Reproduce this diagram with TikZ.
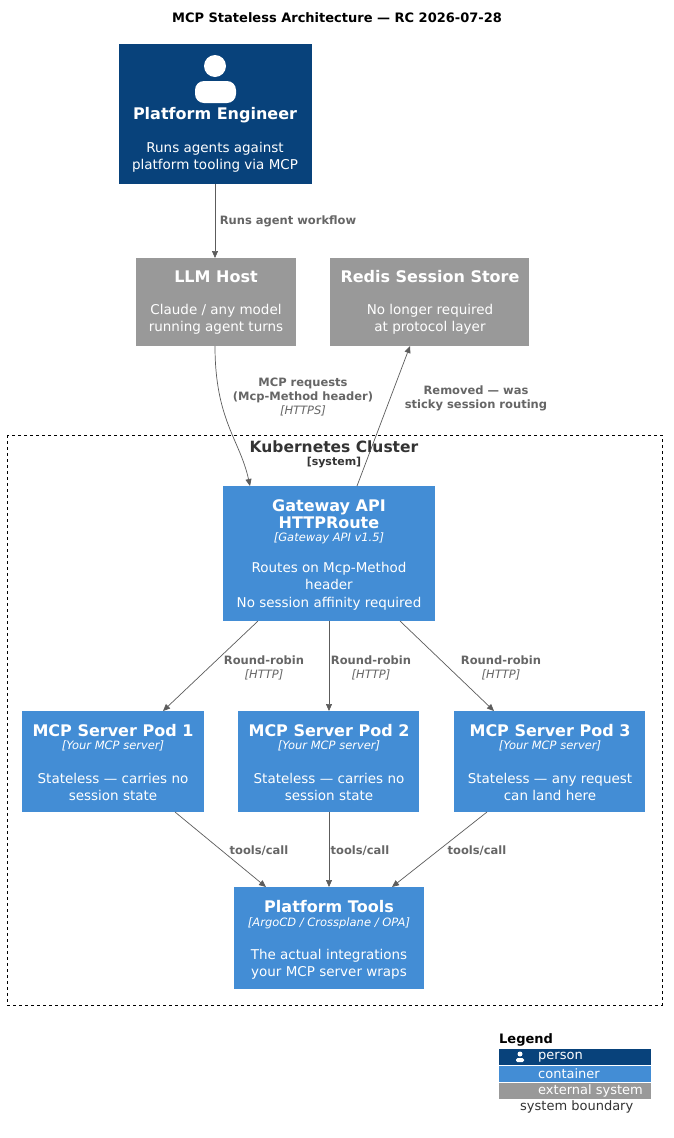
\documentclass[tikz,border=0pt]{standalone}
\usepackage{fontspec}
\setmainfont{DejaVu Sans}
\usetikzlibrary{arrows.meta}
\definecolor{person}{HTML}{08427B}
\definecolor{cont}{HTML}{438DD5}
\definecolor{ext}{HTML}{999999}
\definecolor{lbl}{HTML}{666666}
\begin{document}
\begin{tikzpicture}[x=1pt,y=-1pt,
  box/.style={inner sep=0pt,text=white,align=center},
  ttl/.style={font=\fontsize{16}{17}\selectfont\bfseries},
  dsc/.style={font=\fontsize{13.5}{17}\selectfont},
  arr/.style={draw=lbl!90!black,-{Triangle[length=7pt,width=6pt]},line width=0.7pt},
  el/.style={text=lbl,font=\fontsize{11.5}{14}\selectfont\bfseries,align=center,inner sep=1pt},
  tn/.style={font=\fontsize{11.5}{14}\selectfont\itshape}]
\useasboundingbox (0,0) rectangle (674,1138);
\fill[white] (0,0) rectangle (674,1138);
\node[font=\fontsize{13}{15}\selectfont\bfseries] (title) at (337,18) {MCP Stateless Architecture — RC 2026-07-28};
% boundary
\draw[dashed,line width=0.6pt] (7,435) rectangle (662,1005);
\node[font=\fontsize{15.5}{17}\selectfont\bfseries,text=black!80] (kc) at (334,447) {Kubernetes Cluster};
\node[font=\fontsize{11}{12}\selectfont\bfseries,text=black!80] (kcs) at (334,463) {[system]};
% person
\fill[person] (119,44) rectangle (312,184);
\coordinate (pN) at (215,44); \coordinate (pS) at (215,184);
\fill[white] (215,66) circle (11);
\fill[white,rounded corners=9pt] (195,103) -- (195,81) -- (236,81) -- (236,103) -- cycle;
\node[box,ttl] (pe) at (215,115) {Platform Engineer};
\node[box,dsc] (ped) at (215,157) {Runs agents against\\platform tooling via MCP};
% LLM
\fill[ext] (136,258) rectangle (296,346);
\coordinate (lN) at (215,258); \coordinate (lS) at (215,346);
\node[box,ttl] (llm) at (216,277) {LLM Host};
\node[box,dsc] (llmd) at (216,319) {Claude / any model\\running agent turns};
% Redis
\fill[ext] (330,258) rectangle (529,346);
\coordinate (rS) at (410,346);
\node[box,ttl] (rd) at (430,277) {Redis Session Store};
\node[box,dsc] (rdd) at (430,319) {No longer required\\at protocol layer};
% Gateway
\fill[cont] (223,486) rectangle (435,621);
\coordinate (gN1) at (250,486); \coordinate (gN2) at (357,486);
\coordinate (gS1) at (258,621); \coordinate (gS2) at (329,621); \coordinate (gS3) at (400,621);
\node[box,font=\fontsize{16}{17}\selectfont\bfseries] (gw) at (329,514) {Gateway API\\HTTPRoute};
\node[box,tn] (gwt) at (329,538) {[Gateway API v1.5]};
\node[box,font=\fontsize{13.5}{17.5}\selectfont] (gwd) at (329,586) {Routes on Mcp-Method\\header\\No session affinity required};
% Pods
\foreach \n/\a/\b/\c/\la/\lb in {1/22/204/113/Stateless — carries no/session state, 2/238/419/329/Stateless — carries no/session state, 3/454/645/550/Stateless — any request/can land here}{
  \fill[cont] (\a,711) rectangle (\b,812);
  \node[box,ttl] (p\n) at (\c,731) {MCP Server Pod \n};
  \node[box,tn] (p\n t) at (\c,746) {[Your MCP server]};
  \node[box,dsc] (p\n d) at (\c,787) {\la\\\lb};
}
\coordinate (p1N) at (163,711); \coordinate (p2N) at (329,711); \coordinate (p3N) at (494,711);
\coordinate (p1S) at (175,812); \coordinate (p2S) at (329,812); \coordinate (p3S) at (487,812);
% Tools
\fill[cont] (234,887) rectangle (424,989);
\coordinate (t1) at (266,887); \coordinate (t2) at (329,887); \coordinate (t3) at (392,887);
\node[box,ttl] (pt) at (329,907) {Platform Tools};
\node[box,tn] (ptt) at (329,923) {[ArgoCD / Crossplane / OPA]};
\node[box,dsc] (ptd) at (329,964) {The actual integrations\\your MCP server wraps};
% edges
\draw[arr] (pS) -- (lN);
\node[el] (e1) at (288,221) {Runs agent workflow};
\draw[arr] (lS) .. controls (215,420) and (240,440) .. (gN1);
\node[el] (e2) at (303,397) {MCP requests\\(Mcp-Method header)\\{\mdseries\itshape [HTTPS]}};
\draw[arr] (gN2) -- (rS);
\node[el] (e3) at (476,398) {Removed — was\\sticky session routing};
\draw[arr] (gS1) -- (p1N); \draw[arr] (gS2) -- (p2N); \draw[arr] (gS3) -- (p3N);
\node[el] (e4) at (264,668) {Round-robin\\{\mdseries\itshape [HTTP]}};
\node[el] (e5) at (371,668) {Round-robin\\{\mdseries\itshape [HTTP]}};
\node[el] (e6) at (501,668) {Round-robin\\{\mdseries\itshape [HTTP]}};
\draw[arr] (p1S) -- (t1); \draw[arr] (p2S) -- (t2); \draw[arr] (p3S) -- (t3);
\node[el] (e7) at (259,851) {tools/call};
\node[el] (e8) at (360,851) {tools/call};
\node[el] (e9) at (477,851) {tools/call};
% legend
\node[anchor=west,font=\fontsize{13}{14}\selectfont\bfseries,inner sep=0pt] (lg) at (499,1040) {Legend};
\fill[person] (499,1049) rectangle (651,1065);
\fill[cont] (499,1066) rectangle (651,1082);
\fill[ext] (499,1083) rectangle (651,1099);
\fill[white] (520,1054) circle (2.5);
\fill[white,rounded corners=1.5pt] (516,1062) rectangle (524,1058);
\node[anchor=west,text=white,font=\fontsize{13}{14}\selectfont,inner sep=0pt] (l1) at (538,1057) {person};
\node[anchor=west,text=white,font=\fontsize{13}{14}\selectfont,inner sep=0pt] (l2) at (538,1074) {container};
\node[anchor=west,text=white,font=\fontsize{13}{14}\selectfont,inner sep=0pt] (l3) at (538,1091) {external system};
\node[anchor=west,text=black!80,font=\fontsize{13}{14}\selectfont,inner sep=0pt] (l4) at (520,1107) {system boundary};
\end{tikzpicture}
\end{document}
